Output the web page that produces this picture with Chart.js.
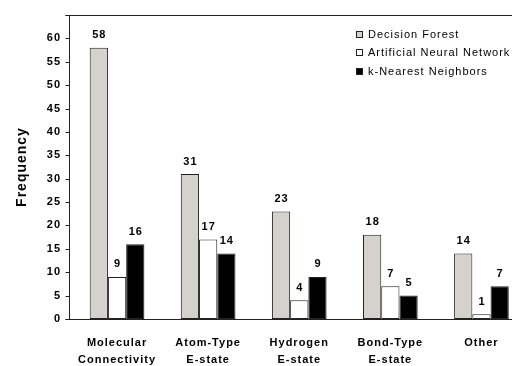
<!DOCTYPE html>
<html>
<head>
<meta charset="utf-8">
<script src="https://cdn.jsdelivr.net/npm/chart.js@4.4.1/dist/chart.umd.min.js"></script>
<style>
  html, body { margin: 0; padding: 0; background: #fff; overflow: hidden; }
  #wrap { width: 512px; height: 366px; overflow: hidden; position: relative; }
  canvas { position: absolute; left: 0; top: 0; }
</style>
</head>
<body>
<div id="wrap"><canvas id="chart" width="540" height="380"></canvas></div>
<script>
// values
const categories = [
  ["Molecular", "Connectivity"],
  ["Atom-Type", "E-state"],
  ["Hydrogen", "E-state"],
  ["Bond-Type", "E-state"],
  "Other",
];
const decisionForest = [58, 31, 23, 18, 14];
const neuralNetwork = [9, 17, 4, 7, 1];
const nearestNeighbors = [16, 14, 9, 5, 7];
const seriesNames = ["Decision Forest", "Artificial Neural Network", "k-Nearest Neighbors"];
const seriesColors = ["#d5d1cd", "#ffffff", "#000000"];
const yMin = 0, yMax = 65, yStep = 5;

const edge = "#222";
const fontFamily = "'Liberation Sans', Arial, sans-serif";

// the old GDI text is wider than Liberation, so spread letters a bit
const spacing = {
  id: "spacing",
  beforeLayout(chart) { chart.ctx.letterSpacing = "1px"; },
  beforeDraw(chart) { chart.ctx.letterSpacing = "1px"; },
};

// axis lines, tick marks, value labels and legend in the old Excel look
const excelBits = {
  id: "excelBits",
  afterDatasetsDraw(chart) {
    const ctx = chart.ctx;
    const area = chart.chartArea;
    const y = chart.scales.y;
    const axisX = Math.round(area.left - 2.5) + 0.5;
    const topY = Math.round(y.getPixelForValue(yMax)) + 0.5;
    const baseY = Math.round(y.getPixelForValue(yMin)) + 0.5;
    ctx.save();
    ctx.strokeStyle = edge;
    ctx.lineWidth = 1;
    ctx.beginPath();
    ctx.moveTo(axisX, topY);
    ctx.lineTo(axisX, baseY);
    for (let v = yMin; v <= yMax; v += yStep) {
      const py = Math.round(y.getPixelForValue(v)) + 0.5;
      ctx.moveTo(axisX - 4, py);
      ctx.lineTo(axisX, py);
    }
    ctx.moveTo(axisX - 4, topY);
    ctx.lineTo(chart.width, topY);
    ctx.moveTo(axisX - 4, baseY);
    ctx.lineTo(chart.width, baseY);
    ctx.stroke();

    // value labels above each bar
    ctx.fillStyle = "#000";
    ctx.font = "bold 11px " + fontFamily;
    ctx.textAlign = "center";
    ctx.textBaseline = "alphabetic";
    chart.data.datasets.forEach((ds, i) => {
      chart.getDatasetMeta(i).data.forEach((bar, j) => {
        ctx.fillText(String(ds.data[j]), bar.x + 0.5, bar.y - 9.5);
      });
    });

    // legend
    ctx.font = "11px " + fontFamily;
    ctx.textAlign = "left";
    ctx.textBaseline = "middle";
    const lx = 356, ly = 33.5, gap = 18.5;
    seriesNames.forEach((name, i) => {
      const cy = Math.round(ly + i * gap);
      ctx.fillStyle = seriesColors[i];
      ctx.fillRect(lx, cy - 3, 7, 7);
      ctx.strokeStyle = edge;
      ctx.strokeRect(lx + 0.5, cy - 2.5, 6, 6);
      ctx.fillStyle = "#000";
      ctx.fillText(name, lx + 12, cy + 1);
    });
    ctx.restore();
  },
};

new Chart(document.getElementById("chart"), {
  type: "bar",
  data: {
    labels: categories,
    datasets: [
      { label: seriesNames[0], data: decisionForest, backgroundColor: seriesColors[0] },
      { label: seriesNames[1], data: neuralNetwork, backgroundColor: seriesColors[1] },
      { label: seriesNames[2], data: nearestNeighbors, backgroundColor: seriesColors[2] },
    ],
  },
  options: {
    responsive: false,
    animation: false,
    layout: { padding: { top: 15, right: 13, bottom: 0, left: 0 } },
    datasets: {
      bar: {
        borderColor: edge,
        borderWidth: 1,
        borderSkipped: false,
        categoryPercentage: 0.6,
        barPercentage: 1,
      },
    },
    plugins: {
      legend: { display: false },
      tooltip: { enabled: false },
    },
    scales: {
      x: {
        grid: { display: false, drawTicks: false },
        border: { display: false },
        ticks: {
          color: "#000",
          padding: 15.5,
          maxRotation: 0,
          autoSkip: false,
          font: { family: fontFamily, size: 11, weight: "bold", lineHeight: 1.55 },
        },
        afterFit(scale) { scale.height = 61; },
      },
      y: {
        min: yMin,
        max: yMax,
        grid: { display: false, drawTicks: false },
        border: { display: false },
        ticks: {
          stepSize: yStep,
          color: "#000",
          padding: 10.5,
          font: { family: fontFamily, size: 11, weight: "bold" },
          callback: (v) => (v === yMax ? "" : v),
        },
        title: {
          display: true,
          text: "Frequency",
          color: "#000",
          padding: { top: 14, bottom: 0 },
          font: { family: fontFamily, size: 14, weight: "bold" },
        },
        afterFit(scale) {
          scale.width = 71.5;
          scale.paddingTop = 0;
          scale.paddingBottom = 0;
        },
      },
    },
  },
  plugins: [spacing, excelBits],
});
</script>
</body>
</html>
